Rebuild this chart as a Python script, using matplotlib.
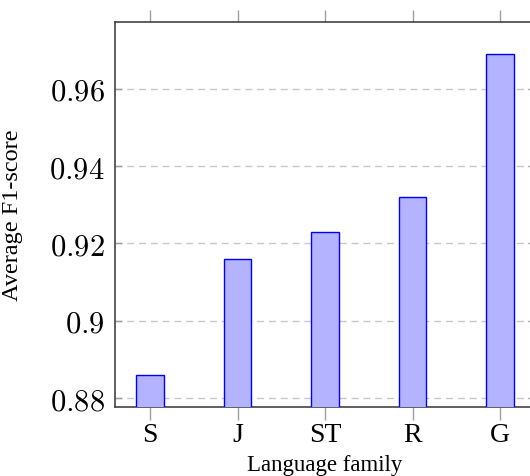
import matplotlib
matplotlib.use("Agg")
import matplotlib.pyplot as plt
from matplotlib.ticker import FixedLocator, FixedFormatter

categories = ["S", "J", "ST", "R", "G"]
values = [0.886, 0.916, 0.923, 0.932, 0.969]
yticks = [0.88, 0.90, 0.92, 0.94, 0.96]
ytick_labels = ["0.88", "0.9", "0.92", "0.94", "0.96"]

plt.rcParams["mathtext.fontset"] = "cm"
plt.rcParams["font.family"] = ["Liberation Serif", "DejaVu Serif"]

fig = plt.figure(figsize=(5.30, 4.77), dpi=100)
ax = fig.add_axes([115 / 530, 69 / 477, 420 / 530, 385 / 477])

x = list(range(len(categories)))
ax.bar(x, values, width=0.31, color="#b3b3ff", edgecolor="#0000ff", linewidth=1.0, zorder=3)

ax.set_xlim(-0.4, 4.4)
ax.set_ylim(0.8777, 0.9773)

ax.set_xticks(x)
ax.set_xticklabels(categories, fontsize=20)
ax.yaxis.set_major_locator(FixedLocator(yticks))
ax.yaxis.set_major_formatter(FixedFormatter(["$" + t + "$" for t in ytick_labels]))
for lab in ax.get_yticklabels():
    lab.set_fontsize(22)

ax.tick_params(axis="x", direction="out", top=True, bottom=True, length=9,
               color="#a0a0a0", width=1.0, pad=2)
ax.tick_params(axis="y", direction="in", left=True, right=True, length=5,
               color="#a0a0a0", width=1.0, pad=7.5)

ax.grid(axis="y", color="#c8c8c8", linestyle=(0, (5, 3.5)), linewidth=1.0, zorder=0)
for s in ax.spines.values():
    s.set_color("#444444")
    s.set_linewidth(1.2)

ax.set_ylabel("Average F1-score", fontsize=17.5)
ax.yaxis.set_label_coords(-0.22, 0.5)
ax.set_xlabel("Language family", fontsize=16.5, va="bottom")
ax.xaxis.set_label_coords(0.5, -0.176)

fig.savefig("out.png", dpi=100)
